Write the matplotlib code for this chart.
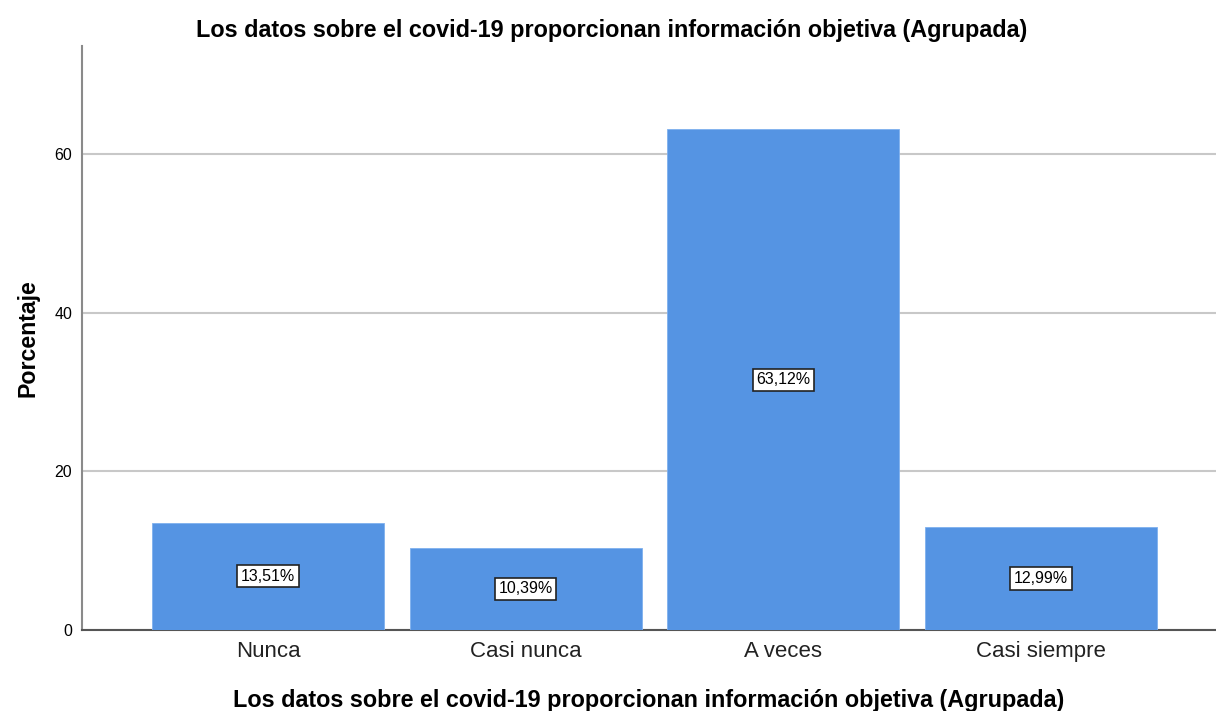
import matplotlib
matplotlib.use("Agg")
import matplotlib.pyplot as plt

plt.rcParams['font.family'] = ['Liberation Sans', 'DejaVu Sans']

# --- Data ---
categorias = ["Nunca", "Casi nunca", "A veces", "Casi siempre"]
porcentajes = [13.51, 10.39, 63.12, 12.99]
etiquetas = ["13,51%", "10,39%", "63,12%", "12,99%"]
yticks = [0, 20, 40, 60]

titulo = "Los datos sobre el covid-19 proporcionan información objetiva (Agrupada)"

fig = plt.figure(figsize=(12.16, 7.11), dpi=100)
ax = fig.add_axes([0.0674, 0.1139, 0.9326, 0.8218])

x = list(range(len(categorias)))
ax.bar(x, porcentajes, width=0.9, color="#5594e3", edgecolor="#7fb0ee",
       linewidth=0.6, zorder=3)

# boxed percentage labels in the middle of each bar
for xi, v, lab in zip(x, porcentajes, etiquetas):
    ax.text(xi, v / 2, lab, ha="center", va="center", fontsize=11.5, zorder=4,
            bbox=dict(boxstyle="square,pad=0.22", facecolor="white",
                      edgecolor="#222222", linewidth=1.2))

ax.set_xlim(-0.722, 3.679)
ax.set_ylim(0, 73.65)
ax.set_yticks(yticks)
ax.set_xticks(x)
ax.set_xticklabels(categorias, fontsize=16, color="#222222")
ax.tick_params(axis="x", length=0, pad=8)
ax.tick_params(axis="y", length=0, labelsize=11.5, pad=7)

ax.yaxis.grid(True, color="#c8c8c8", linewidth=1.5, zorder=0)
ax.set_axisbelow(True)

for s in ["top", "right"]:
    ax.spines[s].set_visible(False)
ax.spines["left"].set_color("#8a8a8a")
ax.spines["left"].set_linewidth(1.5)
ax.spines["bottom"].set_color("#555555")
ax.spines["bottom"].set_linewidth(1.5)

ax.set_ylabel("Porcentaje", fontsize=16.7, fontweight="bold", labelpad=11)
ax.set_xlabel(titulo, fontsize=16.8, fontweight="bold", labelpad=19)
fig.text(0.503, 0.9565, titulo, ha="center", va="center", fontsize=16.8,
         fontweight="bold")

fig.savefig("out.png", dpi=100)
